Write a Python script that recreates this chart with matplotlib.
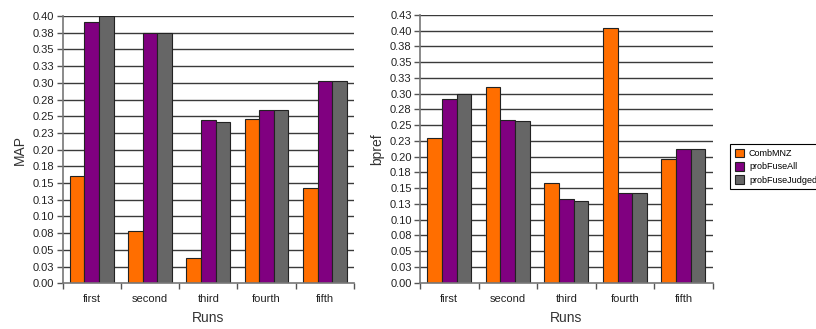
import matplotlib
matplotlib.use("Agg")
import matplotlib.pyplot as plt
import numpy as np
from decimal import Decimal, ROUND_HALF_UP

plt.rcParams['font.family'] = ['Liberation Sans', 'DejaVu Sans']

runs = ["first", "second", "third", "fourth", "fifth"]
series = ["CombMNZ", "probFuseAll", "probFuseJudged"]
colors = ["#FF6E00", "#800080", "#666666"]

map_comb = [0.160, 0.078, 0.038, 0.246, 0.142]
map_all = [0.391, 0.375, 0.244, 0.259, 0.303]
map_judged = [0.400, 0.375, 0.242, 0.259, 0.303]

bpref_comb = [0.230, 0.311, 0.158, 0.405, 0.196]
bpref_all = [0.292, 0.259, 0.133, 0.142, 0.212]
bpref_judged = [0.300, 0.256, 0.130, 0.143, 0.212]

map_max = 0.40
bpref_max = 0.425
tick_step = 0.025

fig = plt.figure(figsize=(8.16, 3.29), dpi=100)
ax1 = fig.add_axes([62.5/816, 1-283.3/329, (354-62.5)/816, (283.3-16)/329])
ax2 = fig.add_axes([420/816, 1-282.7/329, (712.7-420)/816, (282.7-15)/329])

def fmt(v):
    return str(Decimal(str(round(v, 4))).quantize(Decimal("0.01"), rounding=ROUND_HALF_UP))

def draw(ax, data, ymax, ylabel):
    n = len(runs)
    ticks = np.arange(0, ymax + 1e-9, tick_step)
    ax.set_ylim(0, ymax)
    ax.set_xlim(0, n)
    ax.set_yticks(ticks)
    ax.set_yticklabels([fmt(t) for t in ticks])
    for t in ticks[1:]:
        ax.axhline(t, color="#3a3a3a", lw=1.0, zorder=0)
    w = 0.25
    x = np.arange(n) + 0.5
    bars = []
    for j, (vals, c) in enumerate(zip(data, colors)):
        b = ax.bar(x + (j - 1) * w, vals, width=w, color=c, edgecolor="#222222",
                   linewidth=0.8, zorder=2, label=series[j])
        bars.append(b)
    ax.set_xticks(np.arange(n + 1))
    ax.set_xticklabels([])
    ax.set_xticks(x, minor=True)
    ax.set_xticklabels(runs, minor=True)
    ax.tick_params(axis="x", which="major", length=4, color="#555555", width=1, direction="out")
    ax.tick_params(axis="x", which="minor", length=0, pad=8, labelsize=8, labelcolor="#222222")
    ax.tick_params(axis="y", length=4, color="#555555", width=1, labelsize=8, labelcolor="#222222", pad=2)
    for s in ["top", "right"]:
        ax.spines[s].set_visible(False)
    for s in ["left", "bottom"]:
        ax.spines[s].set_color("#777777")
        ax.spines[s].set_linewidth(1.2)
    ax.set_xlabel("Runs", fontsize=10, color="#333333", labelpad=5)
    ax.set_ylabel(ylabel, fontsize=10, color="#333333", labelpad=4)
    return bars

bars = draw(ax1, [map_comb, map_all, map_judged], map_max, "MAP")
draw(ax2, [bpref_comb, bpref_all, bpref_judged], bpref_max, "bpref")

leg = fig.legend(handles=bars, labels=series, loc="upper left",
                 bbox_to_anchor=(730/816, 1-144/329), fontsize=6.5,
                 frameon=True, fancybox=False, edgecolor="black", framealpha=1,
                 handlelength=1.1, handleheight=1.1, handletextpad=0.5,
                 borderpad=0.5, labelspacing=0.45, borderaxespad=0)
leg.get_frame().set_linewidth(0.8)

fig.savefig("out.png", dpi=100)
